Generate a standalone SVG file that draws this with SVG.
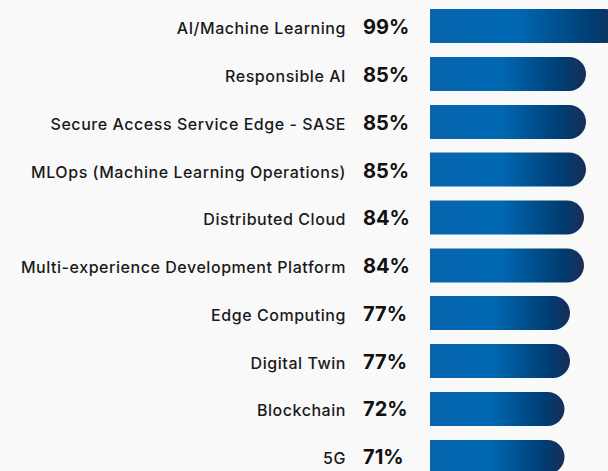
<svg xmlns="http://www.w3.org/2000/svg" width="608" height="471" viewBox="0 0 608 471">
<defs>
<linearGradient id="g" x1="0" y1="0" x2="1" y2="0">
<stop offset="0" stop-color="#0764ad"/>
<stop offset="0.45" stop-color="#0068b3"/>
<stop offset="0.85" stop-color="#003d72"/>
<stop offset="1" stop-color="#192d57"/>
</linearGradient>
<style>
.lbl{font-family:Inter,"Noto Sans","DejaVu Sans",sans-serif;font-size:16px;font-weight:500;letter-spacing:0.55px;fill:#1a1a1a;text-anchor:end}
.pct{font-family:Inter,"Noto Sans","DejaVu Sans",sans-serif;font-size:20px;font-weight:bold;fill:#111}
.bar{fill:url(#g)}
</style>
</defs>
<rect width="608" height="471" fill="#f9f9f9"/>
<g id="row1"><path class="bar" d="M430 9 H605 A17 17 0 0 1 605 43 H430 Z"/><text class="lbl" x="346" y="34">AI/Machine Learning</text><text class="pct" x="363" y="34">99%</text></g>
<g id="row2"><path class="bar" d="M430 57 H569 A17 17 0 0 1 569 91 H430 Z"/><text class="lbl" x="346" y="82">Responsible AI</text><text class="pct" x="363" y="82">85%</text></g>
<g id="row3"><path class="bar" d="M430 105 H569 A17 17 0 0 1 569 139 H430 Z"/><text class="lbl" x="346" y="129.5">Secure Access Service Edge - SASE</text><text class="pct" x="363" y="129.5">85%</text></g>
<g id="row4"><path class="bar" d="M430 152.5 H569 A17 17 0 0 1 569 186.5 H430 Z"/><text class="lbl" x="346" y="177.5">MLOps (Machine Learning Operations)</text><text class="pct" x="363" y="177.5">85%</text></g>
<g id="row5"><path class="bar" d="M430 200.5 H567 A17 17 0 0 1 567 234.5 H430 Z"/><text class="lbl" x="346" y="225">Distributed Cloud</text><text class="pct" x="363" y="225">84%</text></g>
<g id="row6"><path class="bar" d="M430 248.5 H567 A17 17 0 0 1 567 282.5 H430 Z"/><text class="lbl" x="346" y="273">Multi-experience Development Platform</text><text class="pct" x="363" y="273">84%</text></g>
<g id="row7"><path class="bar" d="M430 296 H553 A17 17 0 0 1 553 330 H430 Z"/><text class="lbl" x="346" y="320.5">Edge Computing</text><text class="pct" x="363" y="320.5">77%</text></g>
<g id="row8"><path class="bar" d="M430 344 H553 A17 17 0 0 1 553 378 H430 Z"/><text class="lbl" x="346" y="368.5">Digital Twin</text><text class="pct" x="363" y="368.5">77%</text></g>
<g id="row9"><path class="bar" d="M430 392 H547.5 A17 17 0 0 1 547.5 426 H430 Z"/><text class="lbl" x="346" y="416">Blockchain</text><text class="pct" x="363" y="416">72%</text></g>
<g id="row10"><path class="bar" d="M430 440 H547.5 A17 17 0 0 1 547.5 474 H430 Z"/><text class="lbl" x="346" y="464">5G</text><text class="pct" x="363" y="464">71%</text></g>
</svg>
